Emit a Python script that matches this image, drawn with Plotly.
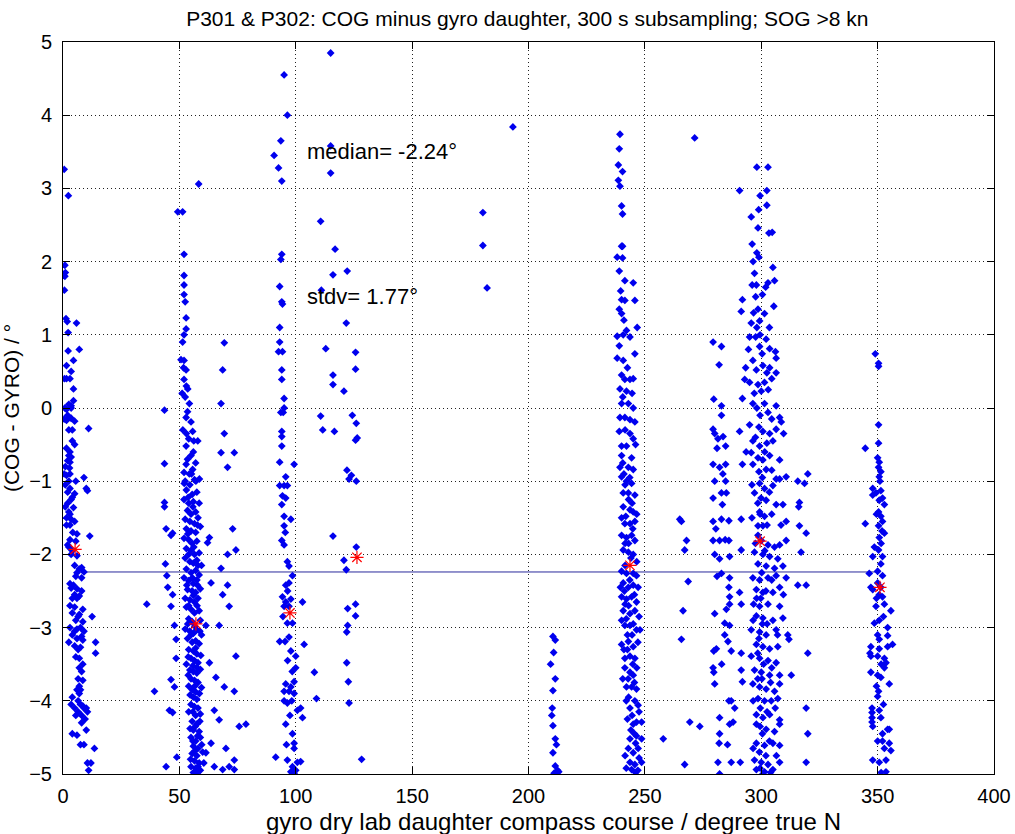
import plotly.graph_objects as go

# ---------------- data ----------------
# cluster near 0-15 deg
pts_000 = [(0.5,3.26),(2.3,2.9),(0.8,1.95),(1,1.85),(0.8,1.8),(0.6,1.61),(1.3,1.22),(1.8,1.18),(5.8,1.16),(2.2,1.03),(7,0.8),(2.2,0.78),(4.5,0.65),(1.5,0.58),(3.5,0.5),(0.6,0.4),(1.5,0.4),(3,0.4),(4.5,0.26),(4.5,0.1),(2.5,0.05),(3.5,0.03),(0.8,0),(1.5,-0.02),(3.5,0),(0.5,-0.15),(1.5,-0.17),(3.5,-0.14),(5,-0.18),(11,-0.28),(2.5,-0.3),(4,-0.45),(5,-0.5),(3,-0.6),(2.5,-0.65),(3.5,-0.67),(2,-0.72),(3,-0.74),(1,-0.8),(2.8,-0.82),(0.5,-0.9),(1.5,-0.92),(3,-0.9),(9,-0.95),(5.5,-1.0),(1,-1.05),(3,-1.1),(10,-1.1),(10.5,-1.13),(2,-1.15),(5,-1.17),(4,-1.22),(2,-1.3),(1,-1.35),(4.5,-1.36),(2.5,-1.42),(3,-1.45),(1.5,-1.5),(3.5,-1.52),(5,-1.55),(3,-1.6),(4.2,-1.7),(6,-1.72),(11.5,-1.75),(3,-1.8),(5.5,-1.82),(2,-1.87),(2.5,-1.9),(3.5,-2.0),(6,-2.02),(7,-2.2),(8,-2.18),(6,-2.25),(9,-2.24),(5.5,-2.3),(8,-2.32),(3,-2.4),(4.5,-2.42),(3.5,-2.46),(6,-2.47),(8,-2.5),(5,-2.55),(7,-2.57),(6,-2.6),(3,-2.7),(5,-2.72),(8.5,-2.75),(4,-2.8),(7,-2.82),(12.5,-2.85),(5.5,-2.9),(8.5,-2.92),(3,-3.0),(6,-3.02),(7.5,-3.0),(9,-3.05),(4,-3.1),(8,-3.12),(6,-3.15),(8.5,-3.17),(2.5,-3.2),(14,-3.2),(5,-3.25),(7.5,-3.27),(6.5,-3.3),(14,-3.35),(5.5,-3.4),(7,-3.42),(8.5,-3.5),(8,-3.6),(6.5,-3.7),(8.5,-3.72),(7,-3.8),(7.5,-3.85),(7,-3.9),(4,-3.95),(6.5,-4.0),(3.5,-4.05),(7.5,-4.05),(8.5,-4.07),(9,-4.1),(10,-4.1),(6.5,-4.15),(10.5,-4.15),(5.5,-4.2),(8,-4.2),(9.5,-4.25),(10,-4.4),(4,-4.45),(6,-4.47),(7.5,-4.6),(13.5,-4.65),(10.5,-4.85),(12,-4.85),(11,-4.95)]
pts_000_extra = [(2,-0.1),(4,-0.3),(1.5,-0.55),(2.5,-1.0),(3.5,-1.25),(1.5,-1.6),(4,-1.95),(5,-2.15),(4,-2.6),(6.5,-2.85),(5,-3.05),(7,-3.55),(6,-3.85),(8,-4.3),(5,-4.1),(9,-4.6)]

# cluster near 35-80 deg
pts_050 = [(49.3,2.68),(51.4,2.68),(58.3,3.06),(52,2.1),(52,1.81),(52,1.68),(52,1.55),(52.5,1.45),(52.9,1.23),(52.9,1.08),(52,1.0),(51.4,0.9),(50.7,0.66),(52,0.65),(52.9,0.52),(52,0.39),(53.6,0.26),(54.3,0.06),(52.9,-0.13),(55,-0.19),(55.7,-0.32),(57.9,-0.45),(52.9,-0.52),(55,-0.65),(52.9,-0.77),(55.7,-0.84),(54.3,-0.9),(52.1,-1.03),(57.1,-1.0),(58.6,-0.97),
           (51.8,0.55),(53,0.3),(52.5,0.15),(53.5,-0.05),(51.5,-0.3),(54,-0.42),(56,-0.6),(53.5,-0.7),(57,-0.75),(52,-0.88),
           (52.5,-1.0),(54.5,-1.05),(56.5,-0.98),(53,-1.12),(55.5,-1.18),(57.5,-1.15),(52,-1.25),(54,-1.3),(56,-1.28),(58.5,-1.3),(53.5,-1.4),(55,-1.45),(57,-1.42),(52.5,-1.52),(54.5,-1.55),(56.5,-1.58),(58,-1.5),(53,-1.65),(55,-1.68),(57,-1.7),(59,-1.62),(52,-1.78),(54,-1.8),(55.5,-1.85),(57.5,-1.82),(53,-1.92),(55,-1.95),(56.5,-2.0),(58.5,-1.98),(52.5,-2.05),(54.5,-2.1),(56,-2.12),(57.5,-2.08),(59.5,-2.15),(53,-2.2),(55,-2.25),(57,-2.22),(58.5,-2.28),(52,-2.32),(54,-2.36),(56,-2.4),(57.5,-2.35),(53.5,-2.48),(55.5,-2.5),(57,-2.52),(59,-2.47),(52.5,-2.6),(54.5,-2.62),(56.5,-2.65),(58,-2.6),(53,-2.72),(55,-2.75),(56.5,-2.8),(58.5,-2.77),(54,-2.88),(55.5,-2.92),(59,-2.9),(52.5,-3.02),(54.5,-3.05),(56,-3.08),(57.5,-3.03),(59.5,-3.1),(53.5,-3.15),(55.5,-3.2),(57,-3.18),(58.5,-3.22),(54,-3.3),(56,-3.32),(57.5,-3.36),(55,-3.42),(56.5,-3.45),(58,-3.48),(53,-3.5),(54.5,-3.58),(56,-3.6),(57.5,-3.62),(59,-3.57),(55,-3.7),(56.5,-3.72),(58,-3.75),(54,-3.8),(55.5,-3.85),(57,-3.88),(59.5,-3.82),(56,-3.95),(57.5,-3.98),(55,-4.05),(56.5,-4.08),(58,-4.1),(54,-4.15),(57,-4.2),(59,-4.18),(55.5,-4.28),(57.5,-4.32),(56,-4.4),(58.5,-4.42),(55,-4.5),(57,-4.55),(59,-4.5),(56,-4.62),(58,-4.65),(55.5,-4.72),(57.5,-4.75),(60,-4.7),(56.5,-4.82),(58.5,-4.85),(55,-4.9),(57,-4.92),(59,-4.95),(56,-4.98),(58,-4.97),
           (43.6,-0.03),(43.6,-0.76),(43.6,-1.29),(43.6,-1.35),(44.3,-1.65),(46.4,-1.74),(47.1,-1.71),(44,-2.13),(44.6,-2.29),(45,-2.45),(47.1,-2.55),(46.4,-2.71),(47.9,-2.97),(48.6,-3.16),(46.4,-3.71),(47.9,-3.81),(48.6,-3.42),(45.7,-4.13),(47.1,-4.16),(48.9,-4.77),(44.3,-4.9),(36,-2.68),(39.3,-3.87),
           (69.3,0.89),(68.6,0.52),(67.9,0.06),(69.3,-0.35),(67.9,-0.61),(70.7,-0.81),(73.6,-0.61),(62.9,-1.77),(62.1,-1.84),(72.9,-1.65),(74.3,-1.94),(70.7,-2.0),(67.9,-2.19),(63.6,-2.39),(68.6,-2.55),(70.7,-2.42),(61.4,-2.97),(67.1,-2.97),(71.4,-2.71),(74.3,-3.39),(62.9,-3.48),(65.7,-3.68),(69.3,-3.81),(73.6,-3.87),(65,-4.13),(67.1,-4.26),(75.7,-4.35),(78.6,-4.32),(63.6,-4.58),(70,-4.65),(73.6,-4.81),(61.4,-4.71),(65,-4.9),(68.6,-4.94),(71.4,-4.9),(73.6,-4.94)]
pts_050_extra = [(53.8,-1.22),(55.8,-1.35),(57.8,-1.6),(53.6,-1.72),(56.2,-1.9),(54,-2.0),(58,-2.15),(55.6,-2.32),(53.2,-2.42),(57.8,-2.42),(56,-2.56),(54,-2.7),(57.6,-2.7),(53.6,-2.95),(56.6,-2.98),(58.8,-3.05),(55,-3.1),(57,-3.28),(53.8,-3.4),(59.2,-3.38),(55.8,-3.52),(57.6,-3.55),(53.8,-3.65),(56.6,-3.8),(58.6,-3.9),(54.6,-3.92),(55.8,-4.15),(58.8,-4.28),(56.8,-4.35),(54.6,-4.38),(57.8,-4.48),(55.8,-4.55),(59.6,-4.6),(56.8,-4.68),(54.8,-4.8),(58,-4.9),(60.5,-4.85),(57,-5.0),(55.2,-0.9),(53,-0.35),(51.2,0.2),(56.2,-0.45)]

# cluster near 90-130 deg
pts_100 = [(95,4.55),(96.4,4.0),(93.6,3.65),(90.7,3.45),(92.6,3.28),(94,3.1),(94,2.1),(93.6,2.03),(93.1,1.66),(94,1.45),(94.3,1.42),(93.1,1.1),(93.1,0.9),(94.3,0.77),(92.6,0.77),(94,0.52),(94,0.39),(95,0.13),(95,0),(94.6,-0.06),(93.6,-0.06),(94,-0.32),(94,-0.39),(94,-0.52),(93.1,-0.74),(99.3,-0.77),(95.7,-0.94),(93.1,-1.06),(95,-1.06),(96.4,-1.06),(94.3,-1.2),(95.7,-1.23),(94,-1.32),(95,-1.48),(97.9,-1.52),(95,-1.61),(94,-1.81),(95,-1.87),(96.4,-2.1),(97.1,-2.16),(98.6,-2.29),(95.7,-2.42),(97.1,-2.39),(94.3,-2.58),(95.7,-2.65),(97.9,-2.61),(102.9,-2.65),(95,-2.71),(97.1,-2.71),(96.4,-2.94),(98.6,-2.94),(93.1,-3.19),(95.4,-3.19),(97.1,-3.13),(103.6,-3.23),(97.9,-3.32),(100,-3.39),(100,-3.55),(95.7,-3.77),(97.9,-3.81),(99.3,-3.74),(95,-3.87),(97.1,-3.87),(99.3,-3.9),(95,-4.0),(96.4,-4.03),(98.3,-4.0),(100.7,-4.13),(102.1,-4.1),(102.9,-4.23),(95.7,-4.32),(98.6,-4.45),(99.3,-4.58),(91.4,-4.77),(96.4,-4.81),(99.3,-4.65),(97.9,-4.97),(98.6,-4.9),(100.7,-4.84),(102.1,-4.83),(98.6,-5.0),(99.3,-4.99),
           (115,4.85),(115,3.58),(115,3.21),(110.7,2.55),(116.9,2.17),(122.1,1.87),(116,1.82),(111,1.61),(121.7,1.16),(112.9,0.81),(125.7,0.76),(125.7,0.53),(116,0.45),(116,0.32),(120.7,0.23),(110.7,-0.11),(111.6,-0.3),(116.6,-0.32),(124.3,-0.1),(126,-0.21),(126.4,-0.41),(125.7,-0.44),(122,-0.85),(123.9,-0.92),(122.9,-0.97),(126,-1.0),(116,-1.75),(120.7,-2.08),(121.7,-2.21),(126,-1.9),(122.3,-2.74),(125.7,-2.68),(125.7,-2.84),(122.3,-2.97),(121.9,-3.06),(121.9,-3.48),(108,-3.61),(122.6,-3.74),(108.9,-3.97),(122.9,-4.03),(128.3,-4.8)]
pts_100_extra = [(95.5,-1.7),(96.5,-2.5),(94.5,-2.85),(96.5,-3.45),(98.5,-3.6),(97.5,-4.2),(96,-4.6),(100,-4.95)]

# sparse points near 180-215 deg
pts_200 = [(180.4,2.67),(180.4,2.22),(182.2,1.64),(193.3,3.84),
           (210.5,-3.12),(211.5,-3.17),(210.8,-3.34),(209.5,-3.5),(211.5,-3.7),(210.5,-3.86),(210,-4.2),(210.2,-4.1),(210.5,-4.34),(211.5,-4.52),(212,-4.6),(210.5,-4.71),(211.5,-4.89),(212.5,-4.95),(211,-4.99),(213,-4.97)]

# cluster near 240-275 deg
pts_245 = [(239.3,3.74),(239,3.54),(238.6,3.32),(240.4,3.23),(238.6,3.11),(239.3,3.03),(240,2.76),(240.4,2.65),(240,2.21),(240.4,2.21),(238.1,2.06),(240.4,2.05),(239,1.87),(241.4,1.74),(245,1.71),(240,1.48),(241.4,1.47),(245.7,1.47),(239,1.35),(240,1.29),(242.1,1.06),(243.6,0.97),(238.1,0.98),(240.7,1.0),(246.7,1.1),(245.7,0.74),(238.1,0.68),(240.7,0.65),(240,0.45),(241.4,0.39),(243.6,0.39),(245,0.4),(239.3,0.26),(242.1,0.23),(240,0.06),(242.9,0.06),(245,0),(239.3,-0.13),(241.4,-0.13),(243.6,-0.16),(245.7,-0.19),(239,-0.32),(243.6,-0.35),(245,-0.42),(240,-0.52),(242.1,-0.52),(240,-0.65),(244.3,-0.68),(239.3,-0.81),(242.9,-0.81),(245,-0.84),(240,-0.94),(242.1,-1.0),(244.3,-1.03),(240.7,-1.16),(242.9,-1.16),(245.7,-1.19),(240.7,-1.35),(243.6,-1.39),(245,-1.42),(241.4,-1.58),(243.6,-1.58),(245.7,-1.55),(240,-1.74),(242.1,-1.77),(244.3,-1.74),(245.7,-1.81),(240.7,-1.94),(242.9,-1.97),(245,-2.0),(240,-2.23),(242.1,-2.26),(245,-2.26),(246.4,-2.29),(240.7,-2.39),(242.9,-2.45),(245,-2.42),(247.1,-2.45),(240,-2.58),(242.1,-2.61),(244.3,-2.58),(246.4,-2.65),(240.7,-2.77),(243.6,-2.81),(245.7,-2.77),(241.4,-2.97),(243.6,-2.97),(246.4,-3.03),(247.9,-3.03),(240,-3.23),(242.9,-3.19),(245,-3.26),(241.4,-3.42),(243.6,-3.39),(245.7,-3.42),(241.4,-3.55),(243.6,-3.61),(245,-3.65),(242.1,-3.81),(244.3,-3.81),(246.4,-3.84),(245.7,-4.0),(247.1,-4.06),(243.6,-4.1),(246.4,-4.29),(245,-4.32),(248.6,-4.29),(243.6,-4.52),(246.4,-4.48),(248.6,-4.52),(242.9,-4.65),(245,-4.71),(247.1,-4.65),(243.6,-4.84),(245.7,-4.87),(248.6,-4.84),(244.3,-4.94),
           (241,-0.9),(243,-1.25),(241.8,-1.48),(244.8,-1.65),(241.5,-1.85),(244,-2.05),(241.2,-2.5),(243,-2.7),(242,-2.88),(244.5,-3.1),(242.5,-3.3),(244.8,-3.5),(242.8,-3.7),(243,-3.95),(244.5,-4.2),(244,-4.4),(246,-4.58),(247,-4.95),
           (271.4,3.69),(265,-1.52),(265.7,-1.55),(267.9,-1.81),(267.1,-1.94),(268.6,-2.37),(266.4,-2.77),(265.7,-3.16),(269.3,-4.29),(273.6,-4.35),(257.9,-4.52),(267.1,-4.87)]
pts_245_extra = [(239.6,1.6),(241,1.2),(239,0.85),(242.5,0.55),(240.5,0.15),(244.5,0.2),(241.5,-0.3),(246,-0.5),(240.5,-0.75),(243.5,-0.95),(241.5,-1.05),(244.5,-1.3),(240,-1.5),(246.5,-1.45),(243,-1.85),(246.5,-2.1),(241.5,-2.15),(243.5,-2.35),(239.5,-2.45),(245.5,-2.55),(241.5,-2.68),(247.5,-2.85),(240,-2.9),(245,-2.95),(242.5,-3.1),(247,-3.2),(241,-3.3),(246.5,-3.55),(240.5,-3.7),(245.5,-3.75),(242,-4.0),(247.5,-4.15),(242.5,-4.25),(245.5,-4.45),(241.5,-4.75),(247.5,-4.78),(246,-4.98),(242,-4.92)]

# cluster near 278-320 deg
pts_300 = [(279.3,0.9),(282.9,0.84),(281.9,0.59),(279.6,0.12),(282.9,0.03),(282.9,-0.1),(279.3,-0.29),(280,-0.35),(281.4,-0.42),(283.6,-0.39),(284.7,-0.52),(279.3,-0.77),(282.1,-0.81),(284.7,-0.77),(280,-1.0),(284.7,-1.0),(282.9,-1.16),(285,-1.16),(279.3,-1.23),(283.3,-1.32),(279.3,-1.55),(282.9,-1.52),(286.1,-1.54),(279.3,-1.81),(282.1,-1.81),(286.1,-1.81),(280,-2.0),(282.1,-2.06),(286.4,-2.03),(282.9,-2.26),(286.4,-2.32),(286.1,-2.45),(286.4,-2.58),(286.4,-2.68),(280,-2.81),(284.3,-2.94),(286.4,-2.97),(284.3,-3.1),(285.7,-3.19),(287.1,-3.32),(279.6,-3.32),(280.7,-3.29),(279.3,-3.55),(279.6,-3.61),(280,-3.77),(286.1,-4.0),(287.1,-4.0),(288.6,-4.1),(282.1,-4.23),(286.4,-4.32),(287.9,-4.29),(282.1,-4.45),(281.9,-4.58),(281.4,-4.84),(287.1,-4.84),(282.1,-5.0),
           (298.1,3.29),(302.9,3.29),(290.7,2.97),(302.4,2.97),(302.4,2.77),(298.9,2.71),(295.7,2.61),(298.6,2.46),(303.3,2.39),(304.7,2.4),(296.1,2.24),(298.1,2.12),(299,2.06),(305,1.92),(305.7,1.74),(297.1,1.84),(297.9,1.68),(296.1,1.68),(302.9,1.71),(301.9,1.65),(291.9,1.48),(291.4,1.32),(297.6,1.52),(298.6,1.35),(296.7,1.3),(305.4,1.39),(295.7,1.16),(299.3,1.19),(298.1,1.1),(301.4,1.29),(295,0.97),(297.6,0.97),(302.1,0.94),(303.6,0.81),(306.1,0.77),(306.4,0.68),(299.3,0.84),(300.4,0.74),(296.4,0.65),(293.3,0.55),(297.9,0.52),(306.4,0.48),(300.7,0.58),(302.4,0.48),(303.6,0.55),(292.9,0.39),(295,0.35),(298.6,0.32),(301.4,0.35),(300,0.23),(291.9,0.13),(296.4,0.06),(298.1,0),(301.4,0.06),(302.9,-0.06),(306.4,0.03),(307.9,-0.13),(290.7,-0.32),(295,-0.23),(299,-0.26),(300.7,-0.32),(303.6,-0.35),(306.4,-0.29),(308.6,-0.19),(309.6,-0.35),(296.4,-0.45),(299.3,-0.52),(302.4,-0.48),(305,-0.45),(295.7,-0.61),(298.6,-0.68),(300.7,-0.71),(303.6,-0.65),(307.9,-0.71),(291.9,-0.77),(296.4,-0.77),(299,-0.87),(302.1,-0.84),(306.4,-0.97),(310.7,-0.94),(299.3,-1.03),(301.4,-1.1),(305,-1.06),(307.9,-0.97),(297.1,-1.16),(299.9,-1.23),(302.1,-1.26),(306.4,-1.32),(309.3,-1.32),(299.3,-1.42),(301.4,-1.48),(291.4,-1.52),(298.6,-1.61),(300.7,-1.61),(310.7,-1.55),(298.6,-1.74),(300,-1.81),(302.9,-1.87),(305.7,-1.9),(307.9,-1.87),(310.7,-1.81),(297.1,-1.97),(300.7,-2.0),(303.6,-2.03),(307.1,-2.06),(291.4,-1.94),(298.6,-2.13),(302.1,-2.16),(305.7,-2.19),(309.3,-2.16),(296.4,-2.32),(299.3,-2.35),(302.9,-2.32),(306.4,-2.29),(310.7,-2.32),(297.9,-2.48),(300.7,-2.52),(305,-2.52),(307.9,-2.45),(290.7,-2.52),(291.4,-2.68),(296.7,-2.68),(299.3,-2.71),(302.9,-2.68),(307.9,-2.71),(297.9,-2.84),(300.7,-2.87),(305,-2.9),(309.3,-2.87),(295.7,-3.03),(299.3,-3.06),(302.1,-3.1),(306.4,-3.03),(297.9,-3.23),(300.7,-3.26),(303.6,-3.29),(307.1,-3.26),(311.4,-3.1),(311.9,-3.16),(295.7,-3.39),(299.3,-3.42),(302.9,-3.45),(306.4,-3.48),(297.1,-3.58),(300,-3.61),(303.6,-3.65),(307.9,-3.65),(312.9,-3.65),(296.4,-3.77),(299.3,-3.81),(302.1,-3.84),(305.7,-3.87),(307.9,-3.77),(298.6,-3.97),(301.4,-4.0),(304.3,-4.0),(307.1,-3.97),(297.9,-4.19),(300.7,-4.23),(303.6,-4.19),(307.9,-4.26),(297.9,-4.32),(302.1,-4.39),(305.7,-4.42),(307.9,-4.32),(297.9,-4.58),(301.4,-4.61),(305,-4.58),(307.9,-4.61),(297.1,-4.81),(300,-4.84),(302.9,-4.87),(307.9,-4.84),(297.9,-4.94),(301.4,-4.97),(305,-4.94),(300.7,-5.0),
           (299.5,-1.45),(300.2,-2.25),(299.8,-2.6),(300.5,-2.95),(299,-3.15),(301,-3.5),(300.3,-3.7),(299.6,-4.1),(300.5,-4.45),(299.2,-4.7),
           (320,-0.9),(315.7,-1.0),(318.6,-1.03),(316.4,-1.29),(316.1,-1.35),(316.4,-1.61),(319.3,-1.71),(317.1,-1.97),(315.7,-2.42),(319.3,-2.42),(320,-3.35),(319.3,-4.1),(320,-4.45),(319.3,-4.84),
           (291.4,-3.35),(291.4,-3.58),(291.9,-3.74),(291,-4.84)]
pts_300_extra = [(299.5,2.9),(296.5,2.0),(300.5,1.55),(303.5,1.1),(299.5,1.0),(294.5,0.8),(304.5,0.4),(297,0.2),(303,0.25),(299.5,-0.1),(304.5,-0.15),(297.5,-0.4),(301.5,-0.6),(293.5,-0.6),(304.5,-0.85),(300.5,-0.95),(296,-1.05),(303.5,-1.15),(298.5,-1.3),(304.5,-1.45),(296,-1.5),(302.5,-1.6),(308.5,-1.6),(297.5,-1.85),(301.5,-1.95),(304.5,-2.35),(298,-2.6),(302,-2.5),(309.5,-2.55),(296.5,-2.9),(302.5,-2.95),(307,-3.1),(298.5,-3.35),(304.5,-3.55),(298.5,-3.7),(304,-3.75),(296.5,-4.0),(302.5,-4.15),(306,-4.1),(299.5,-4.35),(303.5,-4.55),(296.5,-4.65),(302,-4.75),(306.5,-4.75),(299.5,-4.92),(304,-4.98),(284.5,-1.8),(281,-2.3),(285,-2.75),(283,-3.5),(285.5,-4.6),(281,-0.55),(283.5,-0.9),(280.5,-1.65)]

# cluster near 345-357 deg
pts_350 = [(349,0.74),(350.4,0.61),(350.4,0.57),(350.4,-0.23),(350.4,-0.48),(344.7,-0.55),(350,-0.68),(350.7,-0.74),(350.4,-0.81),(351.4,-0.87),(350.7,-0.94),(347.9,-1.1),(349.3,-1.16),(351.4,-1.13),(347.9,-1.19),(350.7,-1.26),(352.1,-1.23),(352.9,-1.32),(344.7,-1.58),(350.4,-1.42),(351.4,-1.48),(352.1,-1.55),(350.4,-1.61),(351.9,-1.68),(352.9,-1.71),(350.7,-1.77),(348.6,-1.9),(350.4,-1.94),(347.9,-2.03),(352.1,-2.03),(351.4,-2.13),(346.4,-2.26),(350,-2.23),(352.1,-2.29),(350,-2.39),(351.4,-2.45),(347.1,-2.45),(347.9,-2.48),(350.7,-2.55),(352.1,-2.58),(349.3,-2.71),(352.9,-2.68),(355.7,-2.77),(348.6,-2.94),(350.7,-2.9),(354.3,-3.0),(350,-3.1),(350.7,-3.16),(354.3,-3.11),(347.1,-3.26),(350.7,-3.29),(354.3,-3.26),(356.4,-3.23),(346.7,-3.35),(347.1,-3.39),(350,-3.39),(352.9,-3.42),(353.6,-3.48),(352.9,-3.55),(347.1,-3.61),(350,-3.65),(351.4,-3.68),(355,-3.77),(350.4,-3.87),(350,-3.94),(350.7,-4.13),(347.6,-4.1),(347.6,-4.16),(347.6,-4.23),(347.6,-4.29),(347.9,-4.35),(351.4,-4.23),(354.3,-4.39),(355,-4.39),(352.1,-4.45),(352.1,-4.55),(355,-4.58),(352.9,-4.65),(355.7,-4.68),(347.9,-4.81),(350.7,-4.84),(353.6,-4.81),(353.6,-4.97)]
pts_350_extra = [(351,-1.0),(349.5,-1.45),(351.5,-1.85),(349.5,-2.6),(352.5,-2.85),(351.5,-3.5),(349.5,-3.8),(352.5,-4.05),(350,-4.55),(351.5,-4.98)]

# per-bin medians (red stars)
median_x = [5.2, 57.1, 97.5, 126.3, 243.6, 299.5, 351.0]
median_y = [-1.93, -2.95, -2.80, -2.04, -2.15, -1.82, -2.45]

overall_median = -2.24
overall_stdv = 1.77

x_ticks = [0, 50, 100, 150, 200, 250, 300, 350, 400]
y_ticks = [-5, -4, -3, -2, -1, 0, 1, 2, 3, 4, 5]

# ---------------- figure ----------------
all_pts = (pts_000 + pts_000_extra + pts_050 + pts_050_extra + pts_100 + pts_100_extra
           + pts_200 + pts_245 + pts_245_extra + pts_300 + pts_300_extra + pts_350 + pts_350_extra)
px = [p[0] for p in all_pts]
py = [p[1] for p in all_pts]

FONT = "Liberation Sans, Arial, Helvetica, sans-serif"
W, H = 1015, 834
ML, MR, MT, MB = 63, 21, 42, 60
PW, PH = W - ML - MR, H - MT - MB

fig = go.Figure()
fig.add_trace(go.Scatter(
    x=[min(median_x), max(median_x)], y=[overall_median, overall_median],
    mode="lines", line=dict(color="#2a2a9c", width=1), hoverinfo="skip"))
fig.add_trace(go.Scatter(
    x=px, y=py, mode="markers",
    marker=dict(symbol="diamond", size=6, color="#0000ee", line=dict(width=0))))
fig.add_trace(go.Scatter(
    x=median_x, y=median_y, mode="markers",
    marker=dict(symbol="asterisk-open", size=11, color="#ff0000",
                line=dict(color="#ff0000", width=1.2))))

fig.add_annotation(x=104, y=3.5, xref="x", yref="y", text=f"median= {overall_median:.2f}°",
                   showarrow=False, xanchor="left", yanchor="middle",
                   font=dict(family=FONT, size=22, color="black"))
fig.add_annotation(x=104, y=1.52, xref="x", yref="y", text=f"stdv= {overall_stdv:.2f}°",
                   showarrow=False, xanchor="left", yanchor="middle",
                   font=dict(family=FONT, size=22, color="black"))
# x-axis label (placed explicitly in the bottom margin)
fig.add_annotation(x=(553 - ML) / PW, y=-(821 - (MT + PH)) / PH, xref="paper", yref="paper",
                   text="gyro dry lab daughter compass course / degree true N",
                   showarrow=False, xanchor="center", yanchor="middle",
                   font=dict(family=FONT, size=24, color="black"))

axis_common = dict(
    showline=True, linecolor="black", linewidth=1, mirror="ticks",
    ticks="inside", ticklen=7, tickwidth=1, tickcolor="black",
    showgrid=True, gridcolor="#222222", gridwidth=1, griddash="1px,3px",
    zeroline=False, automargin=False,
    tickfont=dict(family=FONT, size=20, color="black"),
)

fig.update_layout(
    width=W, height=H,
    margin=dict(l=ML, r=MR, t=MT, b=MB),
    paper_bgcolor="white", plot_bgcolor="white",
    showlegend=False,
    font=dict(family=FONT, color="black"),
    title=dict(text="P301 & P302: COG minus gyro daughter, 300 s subsampling; SOG >8 kn",
               x=0.5195, xanchor="center", y=1 - 19/834, yanchor="middle",
               font=dict(family=FONT, size=21, color="black")),
    xaxis=dict(range=[0, 400], tickvals=x_ticks, ticklabelstandoff=4, **axis_common),
    yaxis=dict(range=[-5, 5], tickvals=y_ticks,
               title=dict(text="(COG - GYRO) / °", font=dict(family=FONT, size=21), standoff=8),
               ticklabelstandoff=6, **axis_common),
)

fig.write_html("out.html")
